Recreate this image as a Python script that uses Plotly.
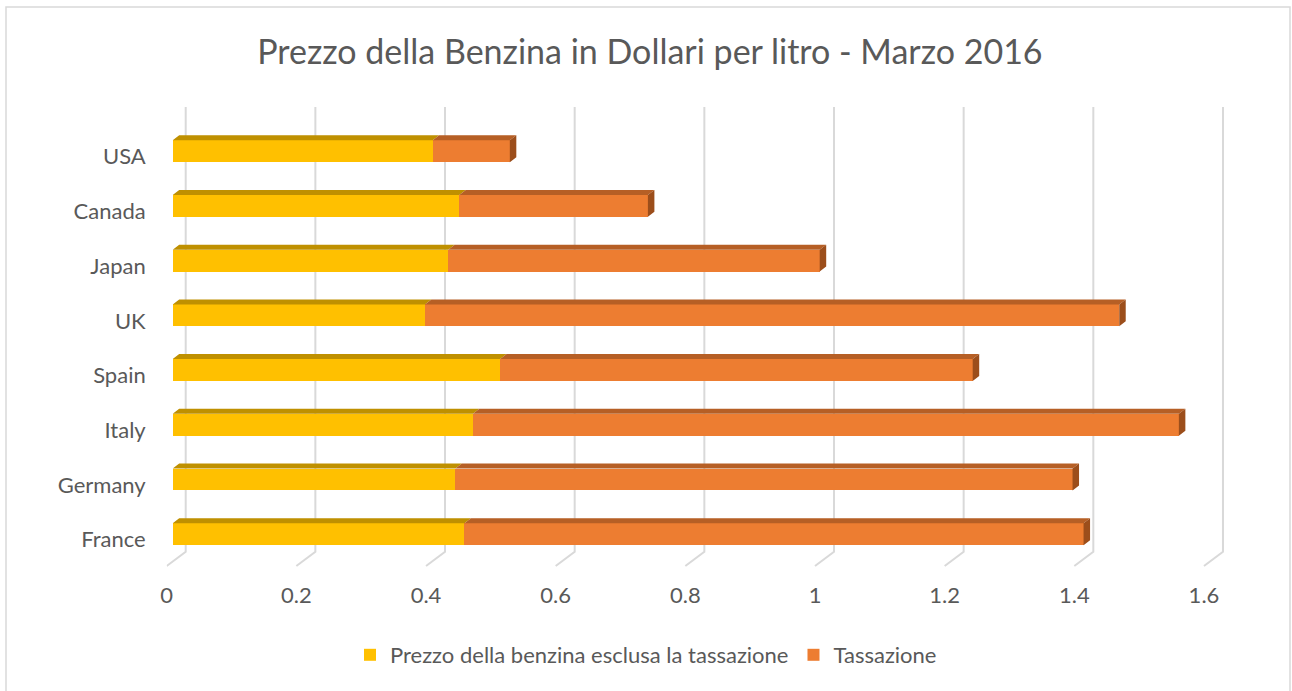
import plotly.graph_objects as go

# ---- data ----
countries = ["France", "Germany", "Italy", "Spain", "UK", "Japan", "Canada", "USA"]
prezzo_base = [0.450, 0.436, 0.463, 0.505, 0.389, 0.425, 0.442, 0.401]
tassazione = [0.955, 0.952, 1.089, 0.729, 1.071, 0.573, 0.291, 0.119]
tick_values = [0, 0.2, 0.4, 0.6, 0.8, 1.0, 1.2, 1.4, 1.6]
tick_labels = ["0", "0.2", "0.4", "0.6", "0.8", "1", "1.2", "1.4", "1.6"]

TITLE = "Prezzo della Benzina in Dollari per litro - Marzo 2016"
NAME_BASE = "Prezzo della benzina esclusa la tassazione"
NAME_TAX = "Tassazione"

# ---- styling ----
W, H = 1292, 691
FONT = "Lato"
TXT = "#595959"
GRID = "#D9D9D9"
C_BASE = "#FFC000"
C_BASE_TOP = "#BF9000"
C_TAX = "#ED7D31"
C_TAX_TOP = "#B65F25"
C_TAX_SIDE = "#9C4E1B"

PX_PER_UNIT = 648.3
X_RANGE = 1.72
BAR_W = 0.40
DEPTH_X = 6.5 / PX_PER_UNIT        # 3D top-face shift in value units
DEPTH_Y = 5.0 / 54.7               # 3D top-face shift in category units
BACK_X = 19.0 / PX_PER_UNIT        # back wall offset for gridlines
LABEL_DROP = 5.5                   # category labels sit on the front floor (px lower)

def dom_x(px0, rng):
    return [px0 / W, (px0 + rng * PX_PER_UNIT) / W]

fig = go.Figure()

# ---- gridlines (back wall + floor diagonal), subplot x/y ----
GRID_TOP, GRID_FLOOR, GRID_FRONT = 107, 551.7, 566
gx, gy = [], []
for v in tick_values:
    gx += [v + BACK_X, v + BACK_X, v, None]
    gy += [GRID_TOP, GRID_FLOOR, GRID_FRONT, None]
fig.add_trace(go.Scatter(x=gx, y=gy, mode="lines", line=dict(color=GRID, width=2),
                         hoverinfo="skip", showlegend=False, xaxis="x", yaxis="y"))

# ---- bars, subplot x2/y2 ----
idx = list(range(len(countries)))
fig.add_trace(go.Bar(y=idx, x=prezzo_base, orientation="h", width=BAR_W, name=NAME_BASE,
                     marker=dict(color=C_BASE, line=dict(width=0)), xaxis="x2", yaxis="y2"))
fig.add_trace(go.Bar(y=idx, x=tassazione, orientation="h", width=BAR_W, name=NAME_TAX,
                     marker=dict(color=C_TAX, line=dict(width=0)), xaxis="x2", yaxis="y2"))

# 3D faces computed from data
tbx, tby, ttx, tty, sx, sy = [], [], [], [], [], []
for i, (b, t) in enumerate(zip(prezzo_base, tassazione)):
    top = i + BAR_W / 2
    bot = i - BAR_W / 2
    tbx += [0, b, b + DEPTH_X, DEPTH_X, 0, None]
    tby += [top, top, top + DEPTH_Y, top + DEPTH_Y, top, None]
    e = b + t
    ttx += [b, e, e + DEPTH_X, b + DEPTH_X, b, None]
    tty += [top, top, top + DEPTH_Y, top + DEPTH_Y, top, None]
    sx += [e, e + DEPTH_X, e + DEPTH_X, e, e, None]
    sy += [bot, bot + DEPTH_Y, top + DEPTH_Y, top, bot, None]
for xs, ys, col in [(tbx, tby, C_BASE_TOP), (ttx, tty, C_TAX_TOP), (sx, sy, C_TAX_SIDE)]:
    fig.add_trace(go.Scatter(x=xs, y=ys, mode="lines", fill="toself", fillcolor=col,
                             line=dict(width=0, color=col), hoverinfo="skip",
                             showlegend=False, xaxis="x2", yaxis="y2"))

# invisible trace to carry the category-label axis (front floor)
fig.add_trace(go.Scatter(x=[None], y=[None], mode="markers", showlegend=False,
                         hoverinfo="skip", xaxis="x2", yaxis="y3"))

# ---- layout ----
y2_top = 151.2 - 0.5 * 54.7
y2_bot = 534.2 + 0.5 * 54.7
fig.update_layout(
    width=W, height=H,
    margin=dict(l=0, r=0, t=0, b=0, autoexpand=False),
    paper_bgcolor="white", plot_bgcolor="rgba(0,0,0,0)",
    font=dict(family=FONT, color=TXT, size=22),
    barmode="stack",
    title=dict(text=TITLE, x=0.503, xanchor="center", y=1 - 52 / H, yanchor="middle",
               font=dict(family=FONT, size=34, color=TXT)),
    xaxis=dict(domain=dom_x(166.7, X_RANGE), range=[0, X_RANGE], showgrid=False,
               zeroline=False, showline=False, tickvals=tick_values, ticktext=tick_labels,
               ticks="outside", ticklen=4, tickcolor="rgba(0,0,0,0)", automargin=False,
               tickfont=dict(size=22, color=TXT), anchor="y"),
    yaxis=dict(domain=[1 - 572 / H, 1 - 100 / H], range=[572, 100], visible=False,
               anchor="x", automargin=False),
    xaxis2=dict(domain=dom_x(172.7, X_RANGE), range=[0, X_RANGE], visible=False,
                anchor="y2", automargin=False),
    yaxis2=dict(domain=[1 - y2_bot / H, 1 - y2_top / H], range=[-0.5, len(countries) - 0.5],
                visible=False, anchor="x2", automargin=False),
    yaxis3=dict(domain=[1 - (y2_bot + LABEL_DROP) / H, 1 - (y2_top + LABEL_DROP) / H],
                range=[-0.5, len(countries) - 0.5],
                tickvals=idx, ticktext=countries, showgrid=False, zeroline=False,
                showline=False, ticks="", ticklabelstandoff=27, automargin=False,
                tickfont=dict(size=22, color=TXT), anchor="free", position=172.7 / W),
    legend=dict(orientation="h", x=0.5, xanchor="center", y=1 - 655 / H, yanchor="middle",
                font=dict(size=22, color=TXT), traceorder="normal", itemwidth=30),
    shapes=[dict(type="rect", xref="paper", yref="paper", x0=6 / W, x1=1290 / W,
                 y0=-0.01, y1=1 - 7 / H, line=dict(color=GRID, width=1.5), layer="below")],
)

fig.write_html("out.html")
